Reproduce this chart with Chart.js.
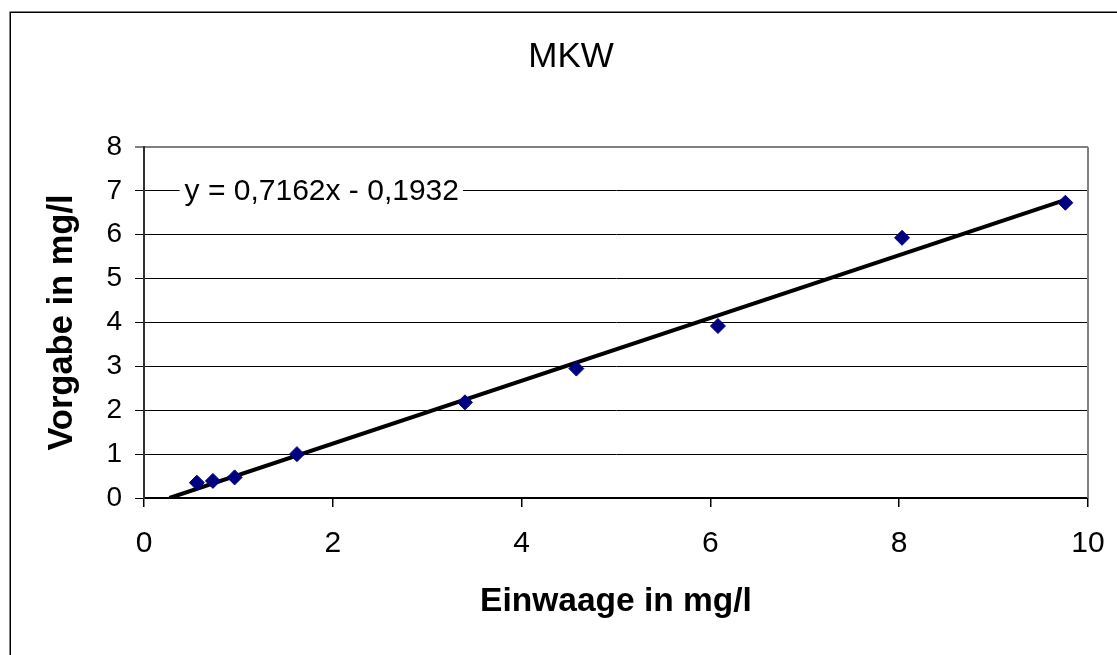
<!DOCTYPE html>
<html>
<head>
<meta charset="utf-8">
<script src="https://cdn.jsdelivr.net/npm/chart.js@4.4.1/dist/chart.umd.min.js"></script>
<style>
html,body{margin:0;padding:0;background:#fff;}
#wrap{width:1117px;height:655px;position:relative;}
</style>
</head>
<body>
<div id="wrap"><canvas id="c" width="1117" height="655"></canvas></div>
<script>
// Data
const einwaage = [0.56, 0.73, 0.96, 1.62, 3.40, 4.58, 6.08, 8.03, 9.76];
const vorgabe  = [0.35, 0.39, 0.47, 1.00, 2.18, 2.95, 3.92, 5.93, 6.73];
const trendSlope = 0.7162;
const trendIntercept = -0.1932;
const xTicks = [0, 2, 4, 6, 8, 10];
const yTicks = [0, 1, 2, 3, 4, 5, 6, 7, 8];
const chartTitle = 'MKW';
const xTitle = 'Einwaage in mg/l';
const yTitle = 'Vorgabe in mg/l';
const equationText = 'y = 0,7162x - 0,1932';

const FONT = '"Liberation Sans", Arial, sans-serif';

// trendline endpoints: from y=0 crossing to last x
const trendX0 = -trendIntercept / trendSlope;
const trendX1 = Math.max(...einwaage);
const trendData = [
  {x: trendX0, y: trendSlope * trendX0 + trendIntercept},
  {x: trendX1, y: trendSlope * trendX1 + trendIntercept}
];

const decor = {
  id: 'decor',
  beforeDraw(chart) {
    const ctx = chart.ctx;
    ctx.save();
    ctx.fillStyle = '#fff';
    ctx.fillRect(0, 0, chart.width, chart.height);
    ctx.strokeStyle = '#000';
    ctx.lineWidth = 1.5;
    ctx.strokeRect(10.25, 12.25, 3000, 3000);
    ctx.restore();
  },
  afterDraw(chart) {
    const ctx = chart.ctx;
    ctx.save();
    ctx.fillStyle = '#000';
    ctx.font = '35px ' + FONT;
    ctx.textAlign = 'center';
    ctx.textBaseline = 'middle';
    ctx.fillText(chartTitle, 571, 57);
    ctx.restore();
  },
  afterDatasetsDraw(chart) {
    const ctx = chart.ctx;
    const a = chart.chartArea;
    const xs = chart.scales.x, ys = chart.scales.y;
    ctx.save();
    // right border of plot area
    ctx.strokeStyle = '#808080';
    ctx.lineWidth = 2;
    ctx.beginPath();
    ctx.moveTo(a.right, a.top);
    ctx.lineTo(a.right, a.bottom);
    ctx.stroke();
    // equation label
    ctx.font = '30px ' + FONT;
    ctx.textAlign = 'left';
    ctx.textBaseline = 'middle';
    const px = xs.getPixelForValue(0.43);
    const py = ys.getPixelForValue(7);
    const w = ctx.measureText(equationText).width;
    ctx.fillStyle = '#fff';
    ctx.fillRect(px - 5, py - 16, w + 9, 32);
    ctx.fillStyle = '#000';
    ctx.fillText(equationText, px, py + 1);
    ctx.restore();
  }
};

new Chart(document.getElementById('c'), {
  type: 'scatter',
  data: {
    datasets: [
      {
        type: 'line',
        label: 'Trend',
        data: trendData,
        borderColor: '#000',
        borderWidth: 4,
        pointRadius: 0,
        fill: false,
        order: 2
      },
      {
        label: 'MKW',
        data: einwaage.map((x, i) => ({x: x, y: vorgabe[i]})),
        pointStyle: 'rectRot',
        pointRadius: 7.5,
        pointHoverRadius: 7.5,
        backgroundColor: '#000080',
        borderColor: '#000080',
        borderWidth: 1,
        order: 1
      }
    ]
  },
  options: {
    responsive: false,
    animation: false,
    events: [],
    layout: { padding: { top: 147, left: 0, right: 29, bottom: 0 } },
    plugins: {
      legend: { display: false },
      title: { display: false },
      tooltip: { enabled: false }
    },
    scales: {
      x: {
        type: 'linear',
        min: 0, max: 10,
        afterBuildTicks(scale) { scale.ticks = xTicks.map(v => ({value: v})); },
        afterFit(scale) { scale.height = 157; scale.paddingLeft = 0; scale.paddingRight = 0; },
        grid: {
          drawOnChartArea: false,
          drawTicks: true,
          tickLength: 9,
          color: '#000',
          lineWidth: 1.5
        },
        border: { display: true, color: '#000', width: 2 },
        ticks: {
          color: '#000',
          font: { family: FONT, size: 30 },
          padding: 19,
          maxRotation: 0,
          autoSkip: false
        },
        title: {
          display: true,
          text: xTitle,
          color: '#000',
          font: { family: FONT, size: 33.5, weight: 'bold' },
          padding: { top: 0, bottom: 33 }
        }
      },
      y: {
        type: 'linear',
        min: 0, max: 8,
        afterBuildTicks(scale) { scale.ticks = yTicks.map(v => ({value: v})); },
        afterFit(scale) { scale.width = 144; scale.paddingTop = 0; scale.paddingBottom = 0; },
        grid: {
          drawOnChartArea: true,
          drawTicks: true,
          tickLength: 9,
          color: ctx => (ctx.tick && ctx.tick.value === 8) ? '#808080' : '#000',
          lineWidth: ctx => (ctx.tick && ctx.tick.value === 8) ? 2 : 1
        },
        border: { display: true, color: '#303030', width: 2 },
        ticks: {
          color: '#000',
          font: { family: FONT, size: 28 },
          padding: 13,
          autoSkip: false
        },
        title: {
          display: true,
          text: yTitle,
          color: '#000',
          font: { family: FONT, size: 34.5, weight: 'bold' },
          padding: { top: 42, bottom: 0 }
        }
      }
    }
  },
  plugins: [decor]
});
</script>
</body>
</html>
